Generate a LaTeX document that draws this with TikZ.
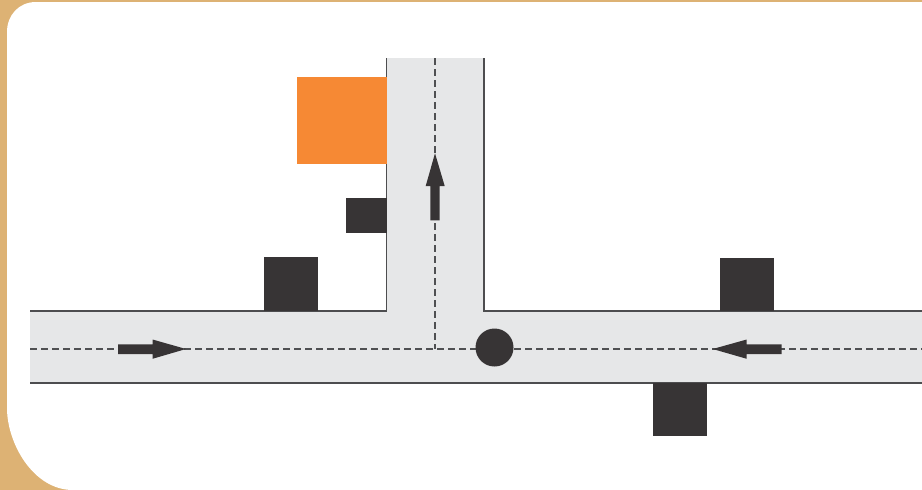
\documentclass[tikz,border=0pt]{standalone}
\definecolor{tan}{HTML}{DDB274}
\definecolor{roadfill}{HTML}{E6E7E8}
\definecolor{darkbox}{HTML}{373435}
\definecolor{edgeline}{HTML}{4D4D4F}
\definecolor{centerline}{HTML}{4F5052}
\definecolor{orangebox}{HTML}{F68934}
\tikzset{
  roadedge/.style={draw=edgeline,line width=1.2pt},
  centerdash/.style={draw=centerline,line width=1.3pt,dash pattern=on 7pt off 4pt},
  block/.style={fill=darkbox},
  pointer/.style={fill=darkbox}
}
\begin{document}
\begin{tikzpicture}[x=1pt,y=-1pt]
\useasboundingbox (0,0) rectangle (922,490);
% frame
\fill[tan] (0,0) rectangle (922,490);
\fill[white] (922,2) -- (36,2) .. controls (19,2) and (7,15) .. (7,32)
  -- (7,408) .. controls (7,443) and (33,490) .. (73,490) -- (922,490) -- cycle;
% road
\fill[roadfill] (30,311) -- (386.5,311) -- (386.5,58) -- (484,58) -- (484,311)
  -- (922,311) -- (922,383) -- (30,383) -- cycle;
\draw[roadedge] (30,311) -- (386.5,311) -- (386.5,58);
\draw[roadedge] (484,58) -- (484,311) -- (922,311);
\draw[roadedge] (30,383) -- (922,383);
% centre lines
\draw[centerdash] (30,349) -- (922,349);
\draw[centerdash] (435,58) -- (435,349);
% buildings
\fill[orangebox] (297,77) rectangle (387,164);
\fill[block] (346,198) rectangle (386.5,233);
\fill[block] (264,257) rectangle (318,311);
\fill[block] (720,258) rectangle (774,311);
\fill[block] (653,383) rectangle (707,436);
% roundabout dot
\fill[darkbox] (494.5,347.5) circle (19);
% arrows
\fill[pointer] (118,344.3) -- (152.5,344.3) -- (152.5,339.5) -- (186,349) -- (152.5,358.8) -- (152.5,354) -- (118,354) -- cycle;
\fill[pointer] (781.7,344.3) -- (746.7,344.3) -- (746.7,339.5) -- (712.7,349) -- (746.7,358.8) -- (746.7,354) -- (781.7,354) -- cycle;
\fill[pointer] (430.3,220.3) -- (430.3,186) -- (425.7,186) -- (435,153.3) -- (444.7,186) -- (439.7,186) -- (439.7,220.3) -- cycle;
\end{tikzpicture}
\end{document}
